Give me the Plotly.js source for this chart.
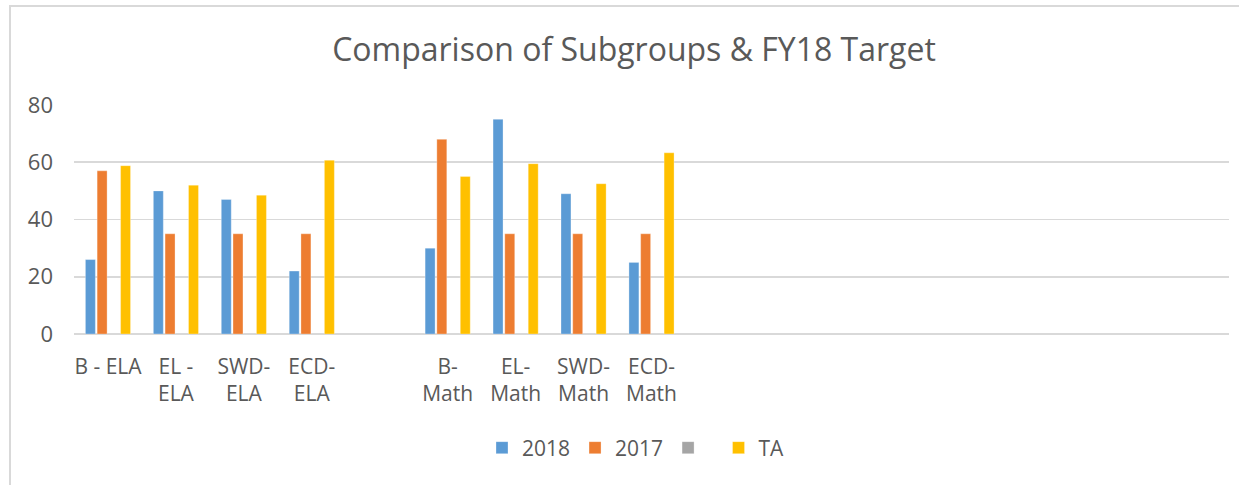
<!DOCTYPE html>
<html>
<head>
<meta charset="utf-8">
<script src="https://cdn.plot.ly/plotly-3.0.1.min.js"></script>
<style>
html,body{margin:0;padding:0;background:#fff;}
#chart{width:1239px;height:485px;}
</style>
</head>
<body>
<div id="chart"></div>
<script>
// Categories (blank slots are empty categories in the original chart)
var categories = ["B - ELA", "EL -<br>ELA", "SWD-<br>ELA", "ECD-<br>ELA", "",
                  "B-<br>Math", "EL-<br>Math", "SWD-<br>Math", "ECD-<br>Math",
                  "", "", "", "", "", "", "", ""];
var seriesNames = ["2018", "2017", " ", "TA"];
var s2018 = [26, 50, 47, 22, null, 30, 75, 49, 25, null, null, null, null, null, null, null, null];
var s2017 = [57, 35, 35, 35, null, 68, 35, 35, 35, null, null, null, null, null, null, null, null];
var sBlank = [null, null, null, null, null, null, null, null, null, null, null, null, null, null, null, null, null];
var sTA = [58.8, 52, 48.5, 60.7, null, 55, 59.5, 52.5, 63.3, null, null, null, null, null, null, null, null];
var colors = ["#5B9BD5", "#ED7D31", "#A5A5A5", "#FFC000"];

var xIdx = categories.map(function(c, i){ return i; });
var seriesData = [s2018, s2017, sBlank, sTA];
var traces = seriesData.map(function(vals, k){
  return {
    type: "bar",
    x: xIdx,
    y: vals,
    name: seriesNames[k],
    marker: {color: colors[k], line: {color: "rgba(255,255,255,0.6)", width: 0.5}},
    hoverinfo: "y"
  };
});

var fontFam = "'Open Sans', 'Liberation Sans', sans-serif";
var W = 1239, H = 485;
var L = 74, R = 10, T = 105, B = 151;
var pw = W - L - R, ph = H - T - B;
function px2x(p){ return (p - L) / pw; }
function py2y(p){ return (H - B - p) / ph; }

var layout = {
  width: W, height: H,
  margin: {l: L, r: R, t: T, b: B, pad: 0},
  paper_bgcolor: "#ffffff",
  plot_bgcolor: "#ffffff",
  font: {family: fontFam, color: "#595959", size: 21},
  title: {
    text: "Comparison of Subgroups & FY18 Target",
    font: {family: fontFam, size: 32, color: "#595959"},
    xref: "container", x: 634 / W, xanchor: "center",
    yref: "container", y: 1 - 50 / H, yanchor: "middle"
  },
  barmode: "group",
  bargap: 0.31,
  bargroupgap: 0.15,
  xaxis: {
    type: "linear",
    range: [-0.5, categories.length - 0.5],
    tickmode: "array",
    tickvals: xIdx,
    ticktext: categories,
    showgrid: false,
    zeroline: false,
    showline: false,
    ticks: "",
    tickfont: {family: fontFam, size: 21, color: "#595959"},
    ticklabelstandoff: 18,
    fixedrange: true
  },
  yaxis: {
    range: [0, 80],
    tickmode: "linear", tick0: 0, dtick: 20,
    showgrid: true, gridcolor: "#D9D9D9", gridwidth: 1.6,
    zeroline: true, zerolinecolor: "#D9D9D9", zerolinewidth: 1.6,
    showline: false,
    ticks: "",
    tickfont: {family: fontFam, size: 22, color: "#595959"},
    ticklabelstandoff: 20,
    fixedrange: true
  },
  showlegend: true,
  legend: {
    orientation: "h",
    xref: "container", x: 636 / W, xanchor: "center",
    yref: "container", y: 37 / H, yanchor: "middle",
    font: {family: fontFam, size: 21, color: "#595959"},
    traceorder: "normal",
    itemwidth: 30
  },
  shapes: [{
    type: "path",
    xref: "paper", yref: "paper",
    path: "M " + px2x(10) + "," + py2y(H + 5) + " L " + px2x(10) + "," + py2y(6) + " L " + px2x(W + 5) + "," + py2y(6),
    line: {color: "#D9D9D9", width: 2},
    layer: "above"
  }]
};

Plotly.newPlot("chart", traces, layout, {displayModeBar: false, staticPlot: true});
</script>
</body>
</html>
